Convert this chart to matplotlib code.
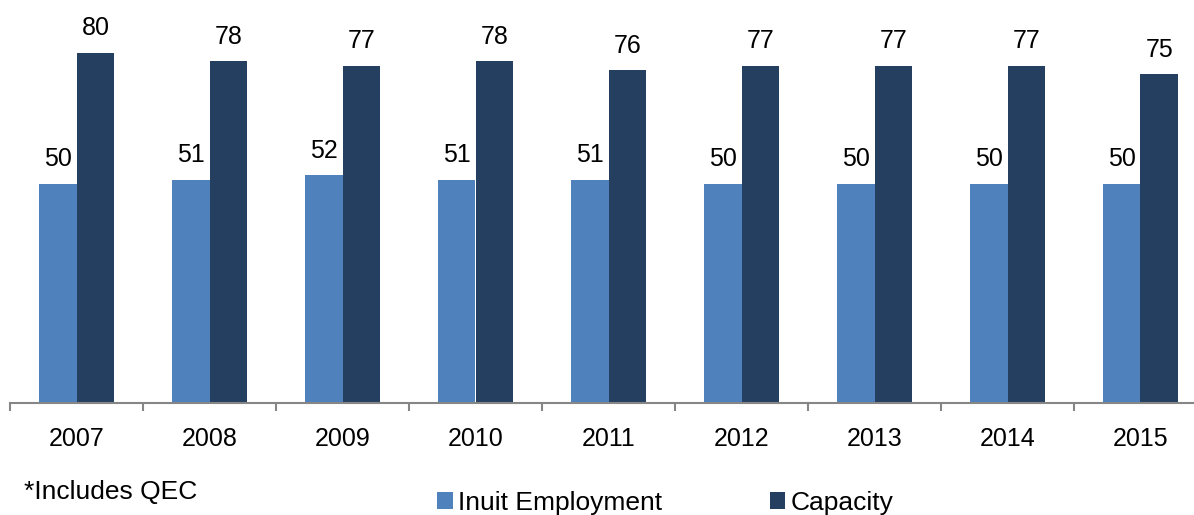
import numpy as np
import matplotlib.pyplot as plt

plt.rcParams['font.family'] = ['Liberation Sans', 'DejaVu Sans']

years = ['2007', '2008', '2009', '2010', '2011', '2012', '2013', '2014', '2015']
inuit = [50, 51, 52, 51, 51, 50, 50, 50, 50]
capacity = [80, 78, 77, 78, 76, 77, 77, 77, 75]

light = '#4F81BD'
dark = '#243F60'

fig = plt.figure(figsize=(11.94, 5.15), dpi=100)
ax = fig.add_axes([10 / 1194, 112 / 515, 1197 / 1194, 403 / 515])

x = np.arange(len(years))
w = 0.2857
b1 = ax.bar(x - w / 2, inuit, w, color=light, label='Inuit Employment')
b2 = ax.bar(x + w / 2, capacity, w, color=dark, label='Capacity')

# value labels above each bar
for bars in (b1, b2):
    for r in bars:
        ax.annotate('%d' % r.get_height(), (r.get_x() + r.get_width() / 2, r.get_height()),
                    xytext=(0, 9), textcoords='offset points',
                    ha='center', va='bottom', fontsize=18)

ax.set_xlim(-0.5, len(years) - 0.5)
ax.set_ylim(0, 92)
ax.set_yticks([])
for s in ['top', 'right', 'left']:
    ax.spines[s].set_visible(False)
ax.spines['bottom'].set_color('#868686')
ax.spines['bottom'].set_linewidth(1.5)

ax.set_xticks(x)
ax.set_xticklabels(years, fontsize=18)
ax.tick_params(axis='x', which='major', length=0, pad=17)
ax.set_xticks(np.arange(len(years)) - 0.5, minor=True)
ax.tick_params(axis='x', which='minor', length=6, width=1.5, color='#868686', direction='out')

fig.text(24 / 1194, 1 - 492 / 515, '*Includes QEC', fontsize=19, va='center', ha='left')
fig.legend(handles=[b1, b2], loc='center left', bbox_to_anchor=(437 / 1194, 1 - 503 / 515),
           ncol=2, frameon=False, fontsize=19, handlelength=0.6, handleheight=0.6,
           handletextpad=0.2, columnspacing=4.07, borderpad=0, borderaxespad=0)

fig.savefig('out.png', dpi=100)
